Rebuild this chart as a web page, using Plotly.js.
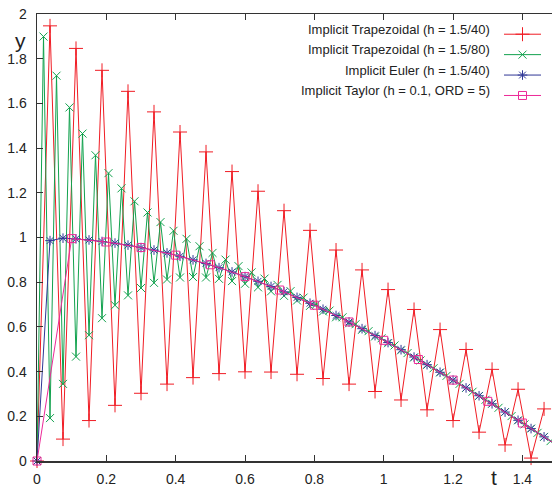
<!DOCTYPE html>
<html>
<head>
<meta charset="utf-8">
<script src="https://cdn.plot.ly/plotly-3.0.1.min.js"></script>
<style>html,body{margin:0;padding:0;background:#fff;}#chart{width:552px;height:489px;}</style>
</head>
<body>
<div id="chart"></div>
<script>
// Step grids
const tCoarse = [0, 0.0375, 0.075, 0.1125, 0.15, 0.1875, 0.225, 0.2625, 0.3, 0.3375,
  0.375, 0.4125, 0.45, 0.4875, 0.525, 0.5625, 0.6, 0.6375, 0.675, 0.7125,
  0.75, 0.7875, 0.825, 0.8625, 0.9, 0.9375, 0.975, 1.0125, 1.05, 1.0875,
  1.125, 1.1625, 1.2, 1.2375, 1.275, 1.3125, 1.35, 1.3875, 1.425, 1.4625, 1.5];
const tFine = [0, 0.01875, 0.0375, 0.05625, 0.075, 0.09375, 0.1125, 0.13125, 0.15, 0.16875,
  0.1875, 0.20625, 0.225, 0.24375, 0.2625, 0.28125, 0.3, 0.31875, 0.3375, 0.35625,
  0.375, 0.39375, 0.4125, 0.43125, 0.45, 0.46875, 0.4875, 0.50625, 0.525, 0.54375,
  0.5625, 0.58125, 0.6, 0.61875, 0.6375, 0.65625, 0.675, 0.69375, 0.7125, 0.73125,
  0.75, 0.76875, 0.7875, 0.80625, 0.825, 0.84375, 0.8625, 0.88125, 0.9, 0.91875,
  0.9375, 0.95625, 0.975, 0.99375, 1.0125, 1.03125, 1.05, 1.06875, 1.0875, 1.10625,
  1.125, 1.14375, 1.1625, 1.18125, 1.2, 1.21875, 1.2375, 1.25625, 1.275, 1.29375,
  1.3125, 1.33125, 1.35, 1.36875, 1.3875, 1.40625, 1.425, 1.44375, 1.4625, 1.48125, 1.5];
const tTaylor = [0, 0.1, 0.2, 0.3, 0.4, 0.5, 0.6, 0.7, 0.8, 0.9, 1.0, 1.1, 1.2, 1.3, 1.4, 1.5];

// Series values
const yTrap40 = [0, 1.947, 0.098, 1.846, 0.181, 1.748, 0.249, 1.654, 0.303, 1.562,
  0.344, 1.472, 0.373, 1.383, 0.391, 1.295, 0.399, 1.207, 0.398, 1.120,
  0.388, 1.032, 0.369, 0.944, 0.344, 0.855, 0.311, 0.767, 0.273, 0.678,
  0.229, 0.588, 0.181, 0.499, 0.129, 0.410, 0.072, 0.321, 0.013, 0.233];
const yTrap80 = [0, 1.899, 0.192, 1.724, 0.345, 1.582, 0.467, 1.465, 0.563, 1.368,
  0.639, 1.288, 0.697, 1.220, 0.741, 1.162, 0.774, 1.112, 0.797, 1.069,
  0.812, 1.030, 0.821, 0.994, 0.823, 0.961, 0.821, 0.931, 0.815, 0.901,
  0.805, 0.872, 0.793, 0.844, 0.777, 0.816, 0.759, 0.788, 0.739, 0.760,
  0.718, 0.731, 0.694, 0.702, 0.669, 0.673, 0.643, 0.643, 0.616, 0.612,
  0.587, 0.581, 0.557, 0.549, 0.527, 0.517, 0.495, 0.483, 0.463, 0.450,
  0.430, 0.415, 0.396, 0.381, 0.361, 0.345, 0.327, 0.310, 0.291, 0.274,
  0.256, 0.238, 0.219, 0.201, 0.182, 0.164, 0.145, 0.126, 0.108, 0.089, 0.071];
const yEuler = [0, 0.986, 0.997, 0.994, 0.989, 0.982, 0.975, 0.966, 0.955, 0.944,
  0.931, 0.916, 0.900, 0.884, 0.865, 0.846, 0.825, 0.804, 0.781, 0.757,
  0.732, 0.706, 0.679, 0.651, 0.622, 0.592, 0.561, 0.530, 0.498, 0.465,
  0.431, 0.397, 0.362, 0.327, 0.292, 0.256, 0.219, 0.182, 0.145, 0.108, 0.071];
const yTaylor = [0, 0.995, 0.980, 0.955, 0.921, 0.878, 0.825, 0.765, 0.697, 0.622,
  0.540, 0.454, 0.362, 0.267, 0.170, 0.071];

const seriesNames = ['Implicit Trapezoidal (h = 1.5/40)', 'Implicit Trapezoidal (h = 1.5/80)',
  'Implicit Euler (h = 1.5/40)', 'Implicit Taylor (h = 0.1, ORD = 5)'];

const xTickVals = [0, 0.2, 0.4, 0.6, 0.8, 1, 1.2, 1.4];
const xTickText = ['0', '0.2', '0.4', '0.6', '0.8', '1', '1.2', '1.4'];
const yTickVals = [0, 0.2, 0.4, 0.6, 0.8, 1, 1.2, 1.4, 1.6, 1.8, 2];
const yTickText = ['0', '0.2', '0.4', '0.6', '0.8', '1', '1.2', '1.4', '1.6', '1.8', '2'];

const colors = ['#f01c24', '#12a24e', '#303796', '#ec2a98'];
const symbols = ['cross-thin-open', 'x-thin-open', 'asterisk-open', 'square-open'];
const msizes = [10, 8, 8, 8];

const xs = [tCoarse.slice(0, yTrap40.length), tFine, tCoarse, tTaylor];
const ys = [yTrap40, yTrap80, yEuler, yTaylor];

const traces = ys.map((y, i) => ({
  type: 'scatter', mode: 'lines+markers', x: xs[i], y: y, name: '',
  hovertext: seriesNames[i],
  cliponaxis: false,
  line: {color: colors[i], width: 1},
  marker: {symbol: symbols[i], size: msizes[i], color: colors[i], line: {color: colors[i], width: 1}}
}));

const font = 'Liberation Sans, Arial, Helvetica, sans-serif';
const L = 37, T = 14, W = 552, H = 489, B = 28;
const pw = W - L, ph = H - T - B;
const rowY = [29.3, 49.5, 70, 90.3];
const annotations = seriesNames.map((s, i) => ({
  xref: 'paper', yref: 'paper', x: (492 - L) / pw, y: (H - B - rowY[i]) / ph,
  xanchor: 'right', yanchor: 'middle', showarrow: false, text: s,
  font: {family: font, size: 13, color: '#222'}
}));
annotations.push({xref: 'paper', yref: 'paper', x: (20 - L) / pw, y: (H - B - 40) / ph,
  xanchor: 'center', yanchor: 'middle', showarrow: false, text: 'y',
  font: {family: font, size: 21, color: '#222'}});
annotations.push({xref: 'paper', yref: 'paper', x: (494 - L) / pw, y: (H - B - 478) / ph,
  xanchor: 'center', yanchor: 'middle', showarrow: false, text: 't',
  font: {family: font, size: 21, color: '#222'}});

const axisCommon = {
  showgrid: false, zeroline: false, showline: true, linecolor: '#333', linewidth: 1.5,
  ticks: 'inside', ticklen: 6, tickwidth: 1, tickcolor: '#333',
  tickfont: {family: font, size: 14, color: '#222'}
};

const layout = {
  width: W, height: H,
  margin: {l: L, r: 0, t: T, b: B, pad: 0},
  paper_bgcolor: '#fff', plot_bgcolor: '#fff',
  showlegend: true,
  legend: {x: (499 - L) / pw, y: (H - B - 19) / ph, xanchor: 'left', yanchor: 'top',
    bgcolor: 'rgba(0,0,0,0)', borderwidth: 0, itemwidth: 37,
    font: {family: font, size: 13.4, color: '#222'}, tracegroupgap: 0},
  xaxis: Object.assign({}, axisCommon, {range: [0, 1.4854], tickvals: xTickVals, ticktext: xTickText,
    mirror: 'ticks', ticklabelstandoff: 5}),
  yaxis: Object.assign({}, axisCommon, {range: [0, 2], tickvals: yTickVals, ticktext: yTickText,
    mirror: false, ticklabelstandoff: 6}),
  annotations: annotations
};

Plotly.newPlot('chart', traces, layout, {staticPlot: true, displayModeBar: false});
</script>
</body>
</html>
